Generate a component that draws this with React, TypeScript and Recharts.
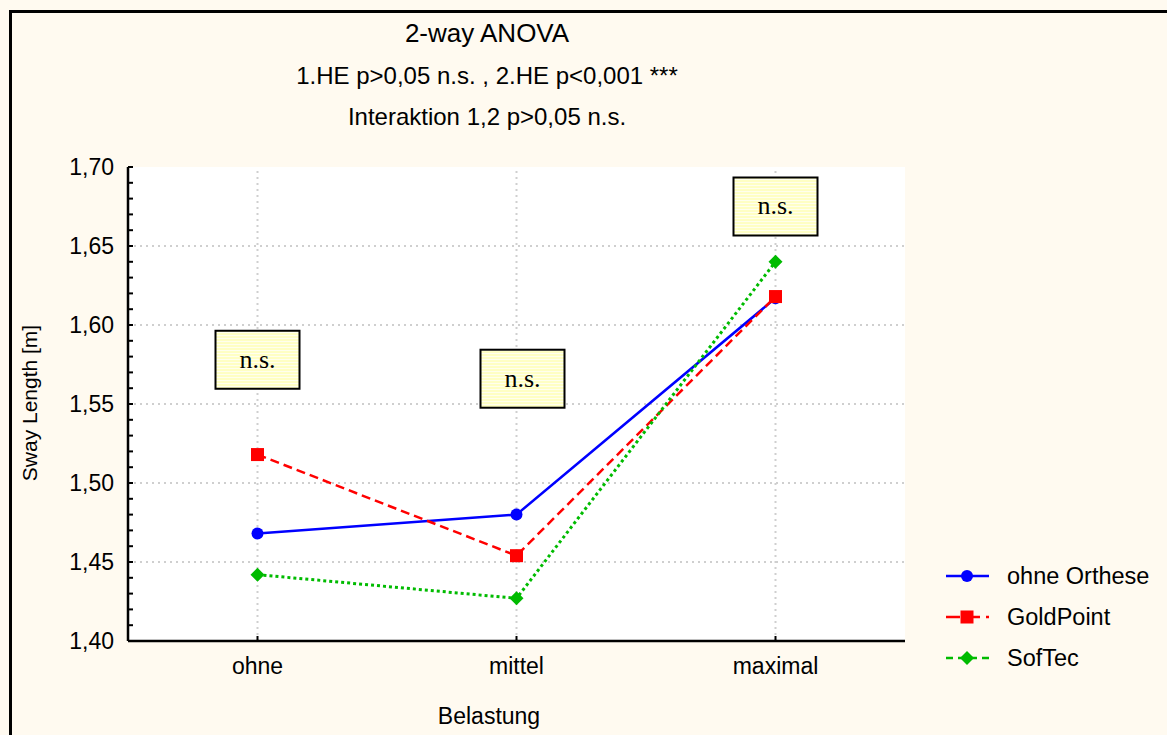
import React from 'react';
import { LineChart, Line, XAxis, YAxis, ReferenceLine, ReferenceDot, CartesianGrid, Legend } from 'recharts';

const categories = ['ohne', 'mittel', 'maximal'];
const ohneOrthese = [1.468, 1.48, 1.617];
const goldPoint = [1.518, 1.454, 1.618];
const sofTec = [1.442, 1.427, 1.64];
const nsBoxY = [1.578, 1.566, 1.675];
const nsText = ['n.s.', 'n.s.', 'n.s.'];
const majorTicks = [1.4, 1.45, 1.5, 1.55, 1.6, 1.65, 1.7];
const gridTicks = [1.45, 1.5, 1.55, 1.6, 1.65];
const allTicks = [
  1.4, 1.41, 1.42, 1.43, 1.44, 1.45, 1.46, 1.47, 1.48, 1.49,
  1.5, 1.51, 1.52, 1.53, 1.54, 1.55, 1.56, 1.57, 1.58, 1.59,
  1.6, 1.61, 1.62, 1.63, 1.64, 1.65, 1.66, 1.67, 1.68, 1.69, 1.7,
];
const seriesNames = ['ohne Orthese', 'GoldPoint', 'SofTec'];

const data = categories.map((c, i) => ({
  cat: c,
  ohne: ohneOrthese[i],
  gold: goldPoint[i],
  sof: sofTec[i],
}));

const SANS = '"Liberation Sans", Arial, sans-serif';
const SERIF = '"Liberation Serif", "Times New Roman", serif';
const BLUE = '#0000FF';
const RED = '#FF0000';
const GREEN = '#00BB00';
const CREAM = '#FFFAF0';
const X_PAD = { left: 129.5, right: 129.5 };
const BOX_SHIFT = [0, 6, 0];

const isMajor = (v: number) => majorTicks.some((m) => Math.abs(m - v) < 1e-6);

const LeftTick = (props: any) => {
  const { x, y, payload } = props;
  if (!isMajor(payload.value)) return <g />;
  return (
    <text x={x} y={y} dy="0.355em" textAnchor="end" fontFamily={SANS} fontSize={23} fill="#000">
      {Number(payload.value).toFixed(2).replace('.', ',')}
    </text>
  );
};

const BottomTick = (props: any) => {
  const { x, y, payload } = props;
  return (
    <text x={x} y={y} dy="0.71em" textAnchor="middle" fontFamily={SANS} fontSize={23} fill="#000">
      {payload.value}
    </text>
  );
};

const CircleDot = (props: any) => {
  const { cx, cy } = props;
  if (cx == null || cy == null) return <g />;
  return <circle cx={cx} cy={cy} r={6} fill={BLUE} stroke="none" />;
};
const SquareDot = (props: any) => {
  const { cx, cy } = props;
  if (cx == null || cy == null) return <g />;
  return <rect x={cx - 6.5} y={cy - 6.5} width={13} height={13} fill={RED} stroke="none" />;
};
const DiamondDot = (props: any) => {
  const { cx, cy } = props;
  if (cx == null || cy == null) return <g />;
  return <polygon points={`${cx},${cy - 7} ${cx + 7},${cy} ${cx},${cy + 7} ${cx - 7},${cy}`} fill={GREEN} stroke="none" />;
};

const makeBox = (label: string, shift: number) => (props: any) => {
  const { cx, cy } = props;
  if (cx == null || cy == null) return <g />;
  const x = cx + shift;
  return (
    <g>
      <rect x={x - 42} y={cy - 29} width={84} height={58} fill="url(#stripes)" stroke="#000" strokeWidth={2} />
      <text x={x} y={cy} dy="0.3em" textAnchor="middle" fontFamily={SERIF} fontSize={26} fill="#000">
        {label}
      </text>
    </g>
  );
};

const LegendContent = () => {
  const rows = [
    { name: seriesNames[0], color: BLUE, dash: undefined as string | undefined, marker: 'circle' },
    { name: seriesNames[1], color: RED, dash: '14 6', marker: 'square' },
    { name: seriesNames[2], color: GREEN, dash: '7 5', marker: 'diamond' },
  ];
  return (
    <svg width={230} height={130}>
      {rows.map((r, i) => {
        const y = 26 + i * 41;
        return (
          <g key={r.name}>
            <line x1={6} x2={49} y1={y} y2={y} stroke={r.color} strokeWidth={2.5} strokeDasharray={r.dash} />
            {r.marker === 'circle' && <circle cx={27} cy={y} r={6} fill={r.color} />}
            {r.marker === 'square' && <rect x={20.5} y={y - 6.5} width={13} height={13} fill={r.color} />}
            {r.marker === 'diamond' && (
              <polygon points={`27,${y - 7} 34,${y} 27,${y + 7} 20,${y}`} fill={r.color} />
            )}
            <text x={67} y={y} dy="0.355em" fontFamily={SANS} fontSize={23.5} fill="#000">
              {r.name}
            </text>
          </g>
        );
      })}
    </svg>
  );
};

const axisStroke = { stroke: '#000', strokeWidth: 2.5 };
const tickStroke = { stroke: '#000', strokeWidth: 2 };

export default function App() {
  return (
    <div style={{ position: 'absolute', left: 0, top: 0, width: 1167, height: 735, background: CREAM, overflow: 'hidden' }}>
      <div
        style={{
          position: 'absolute',
          left: 9,
          top: 10,
          width: 1300,
          height: 900,
          borderLeft: '3px solid #000',
          borderTop: '3px solid #000',
        }}
      />
      <div style={{ position: 'absolute', left: 0, top: 0 }}>
        <LineChart width={1167} height={735} data={data} margin={{ top: 167, right: 262, bottom: 54, left: 68 }}>
          <defs>
            <pattern id="stripes" x={0} y={0} width={6} height={3} patternUnits="userSpaceOnUse">
              <rect x={0} y={0} width={6} height={3} fill="#FFFFC4" />
              <rect x={0} y={2} width={6} height={1} fill="#FFFFEE" />
            </pattern>
          </defs>
          <CartesianGrid horizontal={false} vertical={false} fill="#FFFFFF" stroke="none" />
          <XAxis
            dataKey="cat"
            type="category"
            height={40}
            padding={X_PAD}
            tickSize={-5}
            tickMargin={22}
            axisLine={axisStroke}
            tickLine={tickStroke}
            tick={<BottomTick />}
            interval={0}
          />
          <XAxis
            xAxisId="top"
            dataKey="cat"
            orientation="top"
            height={0}
            padding={X_PAD}
            tickSize={-5}
            axisLine={axisStroke}
            tickLine={tickStroke}
            tick={false}
            interval={0}
          />
          <YAxis
            type="number"
            domain={[1.4, 1.7]}
            ticks={allTicks}
            interval={0}
            width={60}
            tickSize={-5}
            tickMargin={19}
            axisLine={axisStroke}
            tickLine={tickStroke}
            tick={<LeftTick />}
            allowDataOverflow
          />
          <YAxis
            yAxisId="right"
            orientation="right"
            type="number"
            domain={[1.4, 1.7]}
            ticks={allTicks}
            interval={0}
            width={0}
            tickSize={-5}
            axisLine={axisStroke}
            tickLine={tickStroke}
            tick={false}
            allowDataOverflow
          />
          {gridTicks.map((v) => (
            <ReferenceLine key={'h' + v} y={v} stroke="#CFCFCF" strokeWidth={2} strokeDasharray="2 4" />
          ))}
          {categories.map((c) => (
            <ReferenceLine key={'v' + c} x={c} stroke="#CFCFCF" strokeWidth={2} strokeDasharray="2 4" />
          ))}
          <Line
            dataKey="ohne"
            name={seriesNames[0]}
            stroke={BLUE}
            strokeWidth={2.5}
            dot={<CircleDot />}
            activeDot={false}
            isAnimationActive={false}
          />
          <Line
            dataKey="gold"
            name={seriesNames[1]}
            stroke={RED}
            strokeWidth={2.5}
            strokeDasharray="9 5"
            dot={<SquareDot />}
            activeDot={false}
            isAnimationActive={false}
          />
          <Line
            dataKey="sof"
            name={seriesNames[2]}
            stroke={GREEN}
            strokeWidth={3}
            strokeDasharray="3 3"
            dot={<DiamondDot />}
            activeDot={false}
            isAnimationActive={false}
          />
          {categories.map((c, i) => (
            <ReferenceDot key={'b' + c} x={c} y={nsBoxY[i]} r={0} shape={makeBox(nsText[i], BOX_SHIFT[i])} />
          ))}
          <Legend
            layout="vertical"
            align="center"
            verticalAlign="middle"
            content={<LegendContent />}
            wrapperStyle={{ position: 'absolute', left: 940, top: 550, width: 230, height: 130 }}
          />
        </LineChart>
      </div>
      <div style={{ position: 'absolute', left: 187, width: 600, top: 18, lineHeight: '30px', textAlign: 'center', fontFamily: SANS, fontSize: 26, color: '#000' }}>
        2-way ANOVA
      </div>
      <div style={{ position: 'absolute', left: 187, width: 600, top: 61, lineHeight: '30px', textAlign: 'center', fontFamily: SANS, fontSize: 24, color: '#000' }}>
        1.HE p&gt;0,05 n.s. , 2.HE p&lt;0,001 ***
      </div>
      <div style={{ position: 'absolute', left: 187, width: 600, top: 102, lineHeight: '30px', textAlign: 'center', fontFamily: SANS, fontSize: 24, color: '#000' }}>
        Interaktion 1,2 p&gt;0,05 n.s.
      </div>
      <div style={{ position: 'absolute', left: 189, width: 600, top: 701, lineHeight: '30px', textAlign: 'center', fontFamily: SANS, fontSize: 23, color: '#000' }}>
        Belastung
      </div>
      <div
        style={{
          position: 'absolute',
          left: 30 - 150,
          width: 300,
          top: 403 - 15,
          height: 30,
          lineHeight: '30px',
          textAlign: 'center',
          fontFamily: SANS,
          fontSize: 21,
          color: '#000',
          transform: 'rotate(-90deg)',
        }}
      >
        Sway Length [m]
      </div>
    </div>
  );
}
